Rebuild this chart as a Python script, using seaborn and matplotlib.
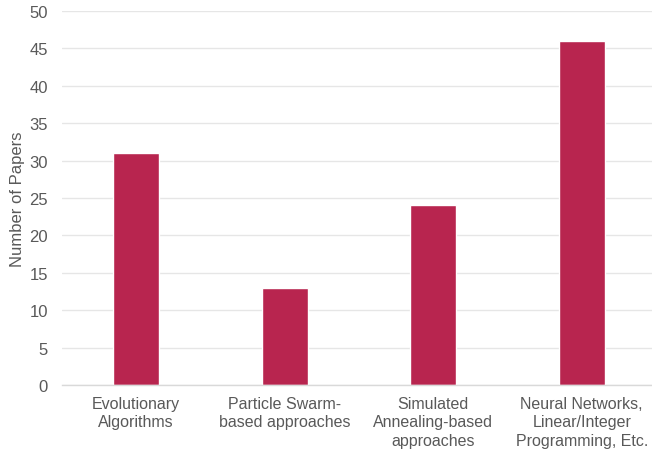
import matplotlib
matplotlib.use("Agg")
import matplotlib.pyplot as plt
import seaborn as sns
import pandas as pd

categories = [
    "Evolutionary\nAlgorithms",
    "Particle Swarm-\nbased approaches",
    "Simulated\nAnnealing-based\napproaches",
    "Neural Networks,\nLinear/Integer\nProgramming, Etc.",
]
papers = [31, 13, 24, 46]
y_ticks = [0, 5, 10, 15, 20, 25, 30, 35, 40, 45, 50]

sns.set_theme(style="white")
plt.rcParams["font.family"] = ["Liberation Sans", "DejaVu Sans"]

df = pd.DataFrame({"category": categories, "papers": papers})

fig = plt.figure(figsize=(6.52, 4.52), dpi=100)
ax = fig.add_axes([62 / 652, 66 / 452, 594 / 652, 374 / 452])

sns.barplot(data=df, x="category", y="papers", color="#B8254F",
            saturation=1, width=0.31, ax=ax)

ax.set_ylim(0, 50)
ax.set_xlim(-0.5, 3.5)
ax.set_yticks(y_ticks)
ax.yaxis.grid(True, color="#E6E6E6", linewidth=1)
ax.set_axisbelow(True)
for side in ["top", "right", "left"]:
    ax.spines[side].set_visible(False)
ax.spines["bottom"].set_color("#D9D9D9")
ax.spines["bottom"].set_linewidth(1)

ax.tick_params(axis="y", length=0, pad=10, labelsize=12, labelcolor="#595959")
ax.tick_params(axis="x", length=0, pad=8, labelsize=11.5, labelcolor="#595959")
for lbl in ax.get_xticklabels():
    lbl.set_linespacing(1.28)
ax.set_xlabel("")
ax.set_ylabel("Number of Papers", fontsize=12, color="#595959", labelpad=3)

fig.savefig("out.png", dpi=100)
